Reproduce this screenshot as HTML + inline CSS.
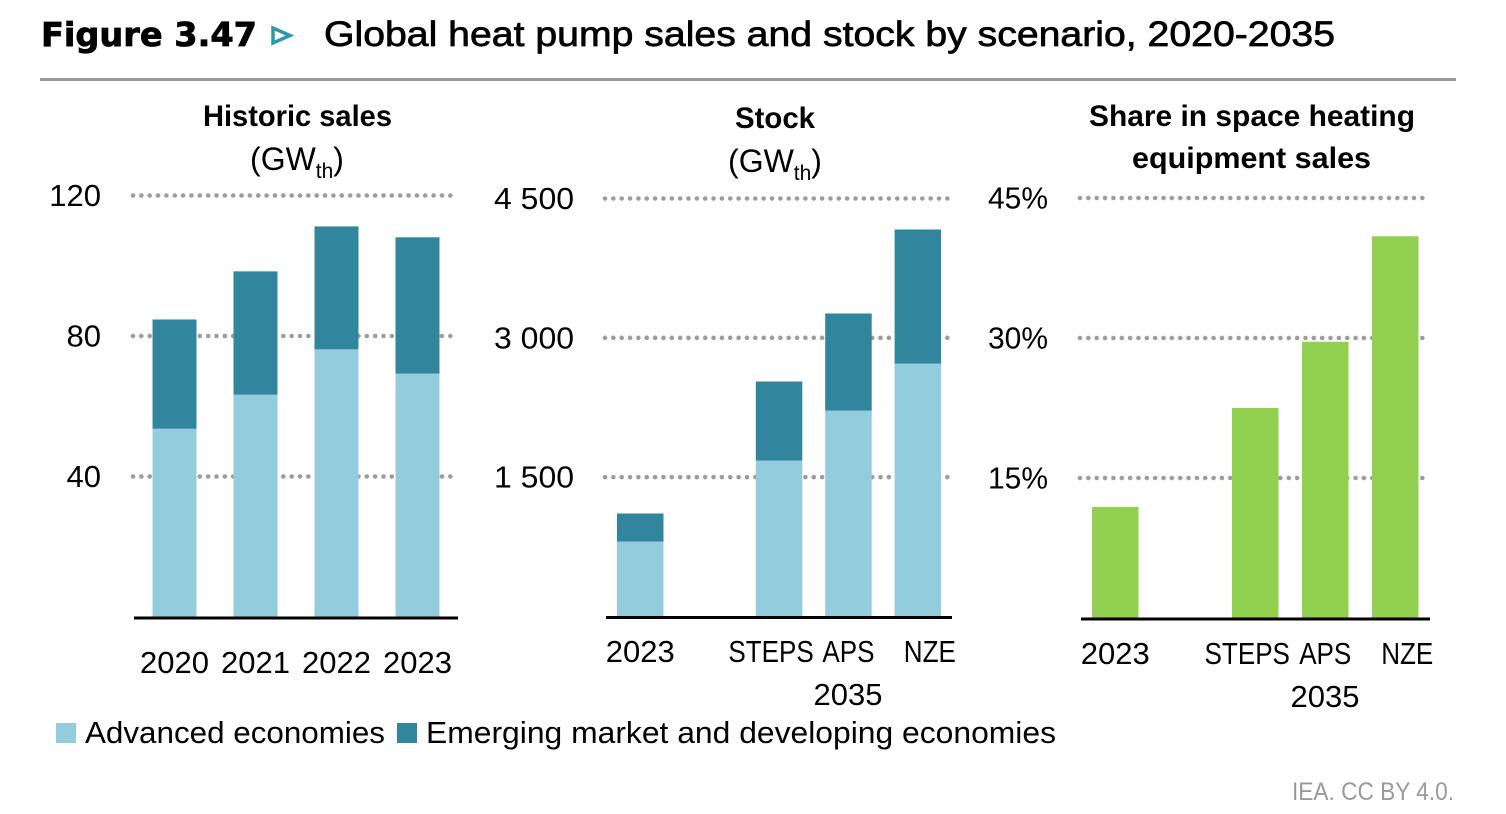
<!DOCTYPE html>
<html lang="en">
<head>
<meta charset="utf-8">
<title>Global heat pump sales and stock by scenario</title>
<style>
html,body{margin:0;padding:0;background:#fff;width:1506px;height:814px;overflow:hidden}
svg{display:block;font-family:"Liberation Sans",sans-serif}
text{fill:#000}
</style>
</head>
<body>
<svg id="figure" width="1506" height="814" viewBox="0 0 1506 814" xmlns="http://www.w3.org/2000/svg">
  <text x="41" y="46" font-family="'DejaVu Sans',sans-serif" font-weight="700" font-size="33" stroke="#000" stroke-width="0.8" textLength="216" lengthAdjust="spacingAndGlyphs">Figure 3.47</text>
  <polygon points="273,28 273,43 290,35.5" fill="none" stroke="#2F96B0" stroke-width="3.5"/>
  <text x="324" y="46" font-size="35" stroke="#000" stroke-width="0.7" textLength="1011" lengthAdjust="spacingAndGlyphs">Global heat pump sales and stock by scenario, 2020-2035</text>
  <rect x="40" y="78" width="1416" height="3" fill="#999"/>

  <text x="203" y="126" font-size="30" font-weight="700" textLength="189" lengthAdjust="spacingAndGlyphs">Historic sales</text>
  <text x="297" y="170" font-size="32" text-anchor="middle">(GW<tspan font-size="21" dy="8">th</tspan><tspan dy="-8">)</tspan></text>
  <text x="735" y="128" font-size="30" font-weight="700" textLength="80" lengthAdjust="spacingAndGlyphs">Stock</text>
  <text x="775" y="172" font-size="32" text-anchor="middle">(GW<tspan font-size="21" dy="8">th</tspan><tspan dy="-8">)</tspan></text>
  <text x="1089" y="126" font-size="30" font-weight="700" textLength="326" lengthAdjust="spacingAndGlyphs">Share in space heating</text>
  <text x="1132" y="168" font-size="30" font-weight="700" textLength="239" lengthAdjust="spacingAndGlyphs">equipment sales</text>

  <g id="chart-sales"></g>
  <g id="chart-stock"></g>
  <g id="chart-share"></g>

  <text x="848" y="705" font-size="31" text-anchor="middle">2035</text>
  <text x="1325" y="707" font-size="31" text-anchor="middle">2035</text>

  <g>
    <rect x="56" y="723" width="20" height="20" fill="#93CCDD"/>
    <text x="85" y="743" font-size="31" textLength="300" lengthAdjust="spacingAndGlyphs">Advanced economies</text>
    <rect x="397" y="723" width="20" height="20" fill="#31859C"/>
    <text x="426" y="743" font-size="31" textLength="630" lengthAdjust="spacingAndGlyphs">Emerging market and developing economies</text>
  </g>
  <text x="1292" y="800" font-size="25" style="fill:#9a9a9a" textLength="162" lengthAdjust="spacingAndGlyphs">IEA. CC BY 4.0.</text>
</svg>
<script>
// ---- data ----
const salesCategories = ['2020', '2021', '2022', '2023'];
const salesAdvanced = [53.6, 63.3, 76.2, 69.3];
const salesEmerging = [31.1, 35.1, 35.0, 38.8];
const salesTicks = [40, 80, 120];
const salesTickLabels = ['40', '80', '120'];

const stockCategories = ['2023', '', 'STEPS', 'APS', 'NZE'];
const stockAdvanced = [807, 0, 1679, 2217, 2723];
const stockEmerging = [302, 0, 851, 1045, 1443];
const stockTicks = [1500, 3000, 4500];
const stockTickLabels = ['1 500', '3 000', '4 500'];

const shareCategories = ['2023', '', 'STEPS', 'APS', 'NZE'];
const shareValues = [11.9, 0, 22.5, 29.6, 40.9];
const shareTicks = [15, 30, 45];
const shareTickLabels = ['15%', '30%', '45%'];

// ---- drawing ----
const NS = 'http://www.w3.org/2000/svg';
const LIGHT = '#93CCDD', DARK = '#31859C', GREEN = '#92D050';
const SCENARIO_NUDGE = [0, 0, -8, 0, 12];
const LETTER_LABEL_SQUEEZE = 0.84;

function make(parent, tag, attrs) {
  const el = document.createElementNS(NS, tag);
  Object.keys(attrs).forEach(function (k) { el.setAttribute(k, attrs[k]); });
  parent.appendChild(el);
  return el;
}

function drawPanel(o) {
  const g = document.getElementById(o.id);
  const yScale = function (v) { return o.baseY - (v / o.tickMax) * (o.baseY - o.topY); };
  const xBand = function (i) { return o.firstBarX + i * o.step; };

  o.ticks.forEach(function (t, i) {
    const y = yScale(t);
    const line = make(g, 'line', { x1: o.gridX1, x2: o.gridX2, y1: y, y2: y, stroke: '#9c9c9c', 'stroke-width': 4.6, 'stroke-linecap': 'round', 'stroke-dasharray': '0 8.35' });
    
    
    const label = make(g, 'text', { x: o.tickX, y: y + 10.5, 'font-size': 31, 'text-anchor': 'end' });
    label.textContent = o.tickLabels[i];
    
    
    if (o.tickLength) {
      label.setAttribute('textLength', o.tickLength);
      label.setAttribute('lengthAdjust', 'spacingAndGlyphs');
    }
  });

  o.categories.forEach(function (c, i) {
    if (!c) return;
    const x = xBand(i);
    let base = 0;
    o.series.forEach(function (s) {
      const v = s.values[i];
      const rect = make(g, 'rect', { x: x, y: yScale(base + v), width: o.barW, height: yScale(base) - yScale(base + v), fill: s.color });
      
      
      base += v;
    });
    const label = make(g, 'text', { x: x + o.barW / 2 + o.labelNudge[i], y: o.labelY, 'font-size': 31, 'text-anchor': 'middle' });
    label.textContent = c;
    
    
    if (/[A-Z]/.test(c)) {
      label.setAttribute('textLength', label.getComputedTextLength() * LETTER_LABEL_SQUEEZE);
      label.setAttribute('lengthAdjust', 'spacingAndGlyphs');
    }
  });

  const axis = make(g, 'rect', { x: o.axisX1, y: o.baseY - 0.5, width: o.axisX2 - o.axisX1, height: 3, fill: '#000' });
  
  
}

drawPanel({
  id: 'chart-sales', categories: salesCategories,
  series: [{ key: 'advanced', values: salesAdvanced, color: LIGHT }, { key: 'emerging', values: salesEmerging, color: DARK }],
  ticks: salesTicks, tickLabels: salesTickLabels, tickMax: 120,
  baseY: 617, topY: 195.5, gridX1: 133, gridX2: 452, tickX: 101,
  firstBarX: 152.5, step: 81, barW: 44, labelY: 673, labelNudge: [0, 0, 0, 0],
  axisX1: 134, axisX2: 458
});
drawPanel({
  id: 'chart-stock', categories: stockCategories,
  series: [{ key: 'advanced', values: stockAdvanced, color: LIGHT }, { key: 'emerging', values: stockEmerging, color: DARK }],
  ticks: stockTicks, tickLabels: stockTickLabels, tickMax: 4500,
  baseY: 616.5, topY: 198.5, gridX1: 605, gridX2: 948, tickX: 574,
  firstBarX: 617, step: 69.4, barW: 46.5, labelY: 662, labelNudge: SCENARIO_NUDGE,
  tickLength: 80, axisX1: 606, axisX2: 952
});
drawPanel({
  id: 'chart-share', categories: shareCategories,
  series: [{ key: 'share', values: shareValues, color: GREEN }],
  ticks: shareTicks, tickLabels: shareTickLabels, tickMax: 45,
  baseY: 618, topY: 198, gridX1: 1080, gridX2: 1423, tickX: 1048,
  firstBarX: 1092, step: 70, barW: 46.5, labelY: 664, labelNudge: SCENARIO_NUDGE,
  tickLength: 60, axisX1: 1081, axisX2: 1430
});
</script>
</body>
</html>
